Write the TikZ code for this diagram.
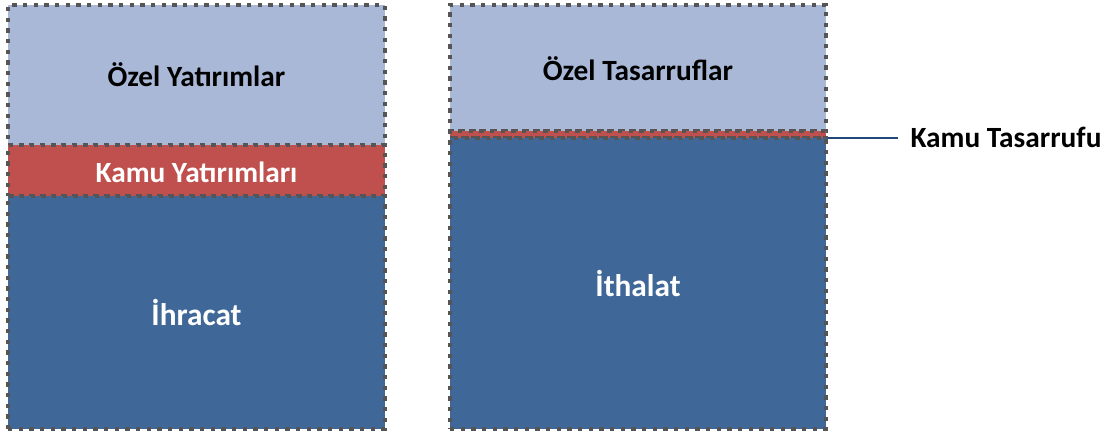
\documentclass[tikz,border=0pt]{standalone}
\usepackage{fontspec}
\setmainfont{Carlito}
\definecolor{lightblk}{RGB}{169,184,214}
\definecolor{redblk}{RGB}{192,80,77}
\definecolor{darkblk}{RGB}{63,104,152}
\definecolor{dashgray}{RGB}{85,85,85}
\definecolor{linkblue}{RGB}{31,73,125}
\begin{document}
\begin{tikzpicture}[x=0.75pt,y=-0.75pt,
  block/.style={draw=dashgray,line width=3pt,dash pattern=on 3.2pt off 4.8pt,
    inner sep=0pt,outer sep=0pt,anchor=north west},
  blocktxt/.style={font=\bfseries\fontsize{22}{26}\selectfont},
  bigtxt/.style={font=\bfseries\fontsize{23.5}{28}\selectfont}]
\useasboundingbox (0,0) rectangle (1110,434);
% left column
\node[block,fill=lightblk,minimum width=282.75pt,minimum height=105pt] (lp) at (8,5) {};
\node[block,fill=redblk,minimum width=282.75pt,minimum height=38.25pt] (lr) at (8,145) {};
\node[block,fill=darkblk,minimum width=282.75pt,minimum height=174.75pt] (ld) at (8,196) {};
\node[blocktxt,text=black] (lpt) at ([yshift=0pt]lp.center) {Özel Yatırımlar};
\node[blocktxt,text=white] (lrt) at ([yshift=-1.5pt]lr.center) {Kamu Yatırımları};
\node[bigtxt,text=white] (ldt) at (ld.center) {İhracat};
% right column
\node[block,fill=lightblk,minimum width=282pt,minimum height=94.5pt] (rp) at (450,5) {};
\node[block,fill=redblk,minimum width=282pt,minimum height=5.25pt] (rr) at (450,131) {};
\node[block,fill=darkblk,minimum width=282pt,minimum height=218.25pt] (rd) at (450,138) {};
\node[blocktxt,text=black] (rpt) at ([yshift=-0.5pt]rp.center) {Özel Tasarruflar};
\node[bigtxt,text=white] (rdt) at (rd.center) {İthalat};
% label
\node[blocktxt,text=black,inner sep=0pt] (kt) at (1006,137) {Kamu Tasarrufu};
\coordinate (kend) at (898,138);
\draw[linkblue,line width=1.2pt] ([xshift=1.5pt]rr.south east) -- (kend);
\end{tikzpicture}
\end{document}
